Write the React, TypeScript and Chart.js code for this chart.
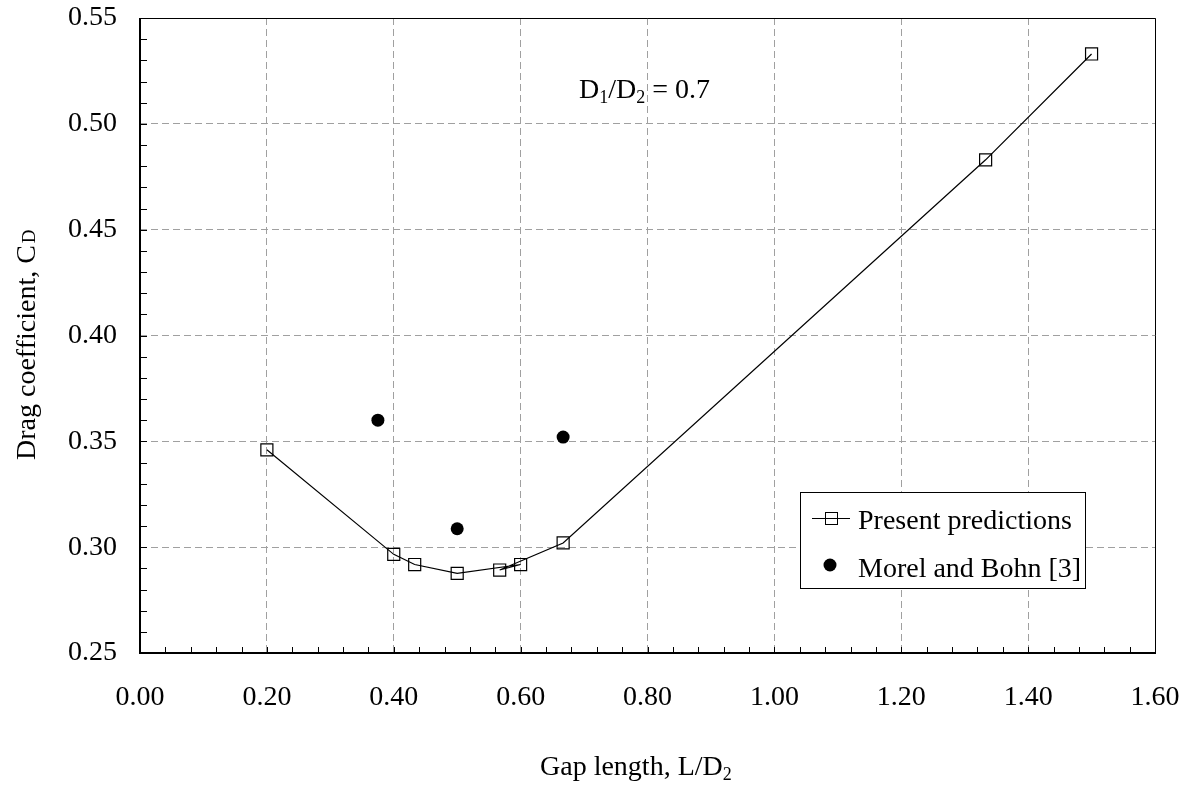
import React, { useEffect, useRef } from "react";
import { Chart, registerables } from "chart.js";

Chart.register(...registerables);

// ---- data ----
const gapPredicted = [0.2, 0.4, 0.433, 0.5, 0.6, 0.567, 0.667, 1.333, 1.5];
const cdPredicted = [0.346, 0.2966, 0.2918, 0.2876, 0.2918, 0.2892, 0.302, 0.483, 0.533];
const gapExperiment = [0.375, 0.5, 0.667];
const cdExperiment = [0.36, 0.3087, 0.352];
const seriesLabels = ["Present predictions", "Morel and Bohn [3]"];
const xTickStep = 0.2;
const yTickStep = 0.05;
const xMinorStep = 0.04;
const yMinorStep = 0.01;
const annotationText = { main: "D", sub1: "1", mid: "/D", sub2: "2", tail: " = 0.7" };

const FONT = "'Liberation Serif', 'Times New Roman', serif";

const zeroPad = (s: any) => {
  s.paddingTop = 0;
  s.paddingBottom = 0;
  s.paddingLeft = 0;
  s.paddingRight = 0;
};

const overlayPlugin = {
  id: "overlay",
  afterDraw(chart: any) {
    const { ctx, chartArea: a, scales } = chart;
    const xs = scales.x;
    const ys = scales.y;
    ctx.save();
    // frame
    ctx.strokeStyle = "#000";
    ctx.lineWidth = 1;
    ctx.beginPath();
    ctx.moveTo(a.left, a.top + 0.5);
    ctx.lineTo(a.right + 0.5, a.top + 0.5);
    ctx.lineTo(a.right + 0.5, a.bottom);
    ctx.stroke();
    ctx.lineWidth = 2;
    ctx.beginPath();
    ctx.moveTo(a.left, a.top);
    ctx.lineTo(a.left, a.bottom);
    ctx.lineTo(a.right + 1, a.bottom);
    ctx.stroke();
    // ticks (inside)
    ctx.lineWidth = 1;
    ctx.beginPath();
    const nx = Math.round((xs.max - xs.min) / xMinorStep);
    for (let i = 1; i < nx; i++) {
      const px = Math.round(xs.getPixelForValue(xs.min + i * xMinorStep)) + 0.5;
      ctx.moveTo(px, a.bottom);
      ctx.lineTo(px, a.bottom - 6);
    }
    const ny = Math.round((ys.max - ys.min) / yMinorStep);
    for (let i = 1; i < ny; i++) {
      const py = Math.round(ys.getPixelForValue(ys.min + i * yMinorStep)) + 0.5;
      ctx.moveTo(a.left, py);
      ctx.lineTo(a.left + 7, py);
    }
    ctx.stroke();

    ctx.fillStyle = "#000";
    ctx.textBaseline = "alphabetic";
    ctx.textAlign = "left";
    const big = `28px ${FONT}`;
    const small = `18px ${FONT}`;

    // annotation D1/D2 = 0.7
    let x = 579;
    const by = 98;
    const put = (t: string, f: string, dy: number) => {
      ctx.font = f;
      ctx.fillText(t, x, by + dy);
      x += ctx.measureText(t).width;
    };
    put(annotationText.main, big, 0);
    put(annotationText.sub1, small, 5);
    put(annotationText.mid, big, 0);
    put(annotationText.sub2, small, 5);
    put(annotationText.tail, big, 0);

    // x title
    ctx.font = big;
    const xt = "Gap length, L/D";
    ctx.fillText(xt, 540, 775);
    const w = ctx.measureText(xt).width;
    ctx.font = small;
    ctx.fillText("2", 540 + w, 780);

    // y title
    ctx.save();
    ctx.translate(35, 460);
    ctx.rotate(-Math.PI / 2);
    ctx.font = big;
    const yt = "Drag coefficient, C";
    ctx.fillText(yt, 0, 0);
    const yw = ctx.measureText(yt).width;
    ctx.font = `19px ${FONT}`;
    ctx.fillText("D", yw + 2, 0);
    ctx.restore();

    // legend
    const lx = 800.5, ly = 492.5, lw = 285, lh = 96;
    ctx.fillStyle = "#fff";
    ctx.fillRect(lx, ly, lw, lh);
    ctx.strokeStyle = "#000";
    ctx.lineWidth = 1;
    ctx.strokeRect(lx, ly, lw, lh);
    ctx.beginPath();
    ctx.moveTo(812, 518.5);
    ctx.lineTo(850, 518.5);
    ctx.stroke();
    ctx.strokeRect(825.5, 512.5, 12, 12);
    ctx.fillStyle = "#000";
    ctx.beginPath();
    ctx.arc(830, 565, 6.5, 0, Math.PI * 2);
    ctx.fill();
    ctx.font = big;
    ctx.fillText(chart.data.datasets[0].label, 858, 529);
    ctx.fillText(chart.data.datasets[1].label, 858, 577);
    ctx.restore();
  },
};

export default function App() {
  const ref = useRef<HTMLCanvasElement | null>(null);
  useEffect(() => {
    const canvas = ref.current;
    if (!canvas) return;
    const chart = new Chart(canvas, {
      type: "scatter",
      data: {
        datasets: [
          {
            label: seriesLabels[0],
            data: gapPredicted.map((g, i) => ({ x: g, y: cdPredicted[i] })),
            showLine: true,
            borderColor: "#000",
            borderWidth: 1.2,
            pointStyle: "rect",
            pointRadius: 8.5,
            pointBorderWidth: 1.2,
            pointBorderColor: "#000",
            pointBackgroundColor: "rgba(0,0,0,0)",
          },
          {
            label: seriesLabels[1],
            data: gapExperiment.map((g, i) => ({ x: g, y: cdExperiment[i] })),
            showLine: false,
            pointStyle: "circle",
            pointRadius: 6.5,
            pointBorderWidth: 0,
            pointBackgroundColor: "#000",
            borderColor: "#000",
          },
        ],
      },
      options: {
        responsive: false,
        animation: false,
        devicePixelRatio: 1,
        layout: { autoPadding: false, padding: { top: 18, right: 37, left: 0, bottom: 0 } },
        plugins: { legend: { display: false }, tooltip: { enabled: false } },
        scales: {
          x: {
            type: "linear",
            min: 0,
            max: 1.6,
            afterFit: (s: any) => {
              s.height = 132;
              zeroPad(s);
            },
            ticks: {
              stepSize: xTickStep,
              padding: 28,
              color: "#000",
              font: { family: FONT, size: 28 },
              callback: (v: any) => Number(v).toFixed(2),
              maxRotation: 0,
            },
            grid: { color: "#a0a0a0", lineWidth: 1, drawTicks: false },
            border: { display: false, dash: [7, 4] },
          },
          y: {
            type: "linear",
            min: 0.25,
            max: 0.55,
            afterFit: (s: any) => {
              s.width = 140;
              zeroPad(s);
            },
            ticks: {
              stepSize: yTickStep,
              padding: 23,
              color: "#000",
              font: { family: FONT, size: 28 },
              callback: (v: any) => Number(v).toFixed(2),
            },
            grid: { color: "#a0a0a0", lineWidth: 1, drawTicks: false },
            border: { display: false, dash: [7, 4] },
          },
        },
      },
      plugins: [overlayPlugin],
    } as any);
    return () => chart.destroy();
  }, []);
  return (
    <div style={{ position: "absolute", left: 0, top: 0, width: 1192, height: 785, background: "#fff" }}>
      <canvas ref={ref} width={1192} height={785} style={{ width: 1192, height: 785, display: "block" }} />
    </div>
  );
}
